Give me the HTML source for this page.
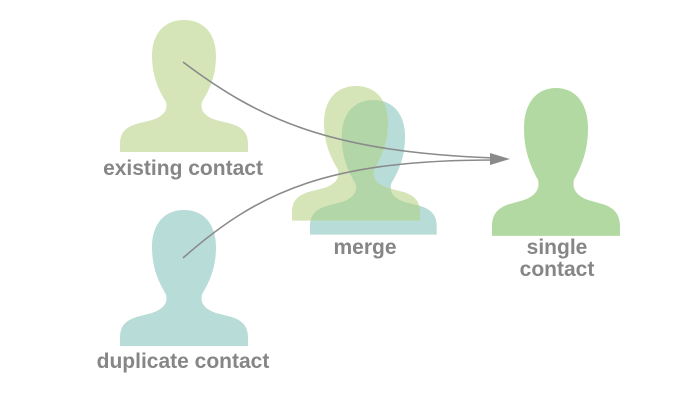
<!DOCTYPE html>
<html><head><style>
html,body{margin:0;padding:0;background:#fff;width:699px;height:419px;overflow:hidden}
</style></head><body>
<svg width="699" height="419" viewBox="0 0 699 419" xmlns="http://www.w3.org/2000/svg">
<defs>
<path id="p" d="M64,0 C84,0 96,14 96,36 C96,58 88,72 82,82 C80,90 84,96 96,100 L112,104 C124,108 128,114 128,124 L128,132 L0,132 L0,124 C0,114 4,108 16,104 L32,100 C44,96 48,90 46,82 C40,72 32,58 32,36 C32,14 44,0 64,0 Z"/>
<clipPath id="tc"><use href="#p" transform="translate(310,100) scale(0.99,1.02)"/></clipPath>
</defs>
<use href="#p" transform="translate(120,20)" fill="#d6e5b8"/>
<use href="#p" transform="translate(120,210) scale(1,1.03)" fill="#b8dcd8"/>
<use href="#p" transform="translate(310,100) scale(0.99,1.02)" fill="#b8dcd8"/>
<use href="#p" transform="translate(292,86) scale(1,1.02)" fill="#d6e5b8"/>
<g clip-path="url(#tc)"><use href="#p" transform="translate(292,86) scale(1,1.02)" fill="#b3d6a8"/></g>
<use href="#p" transform="translate(492,88) scale(1,1.12)" fill="#b3d9a3"/>
<g fill="none" stroke="#8a8a8a" stroke-width="1.6">
<path d="M183,62 C260,120 330,152 495,158"/>
<path d="M183,258 C260,190 330,160 495,160"/>
</g>
<path d="M490,153 L510,159 L490,165 Z" fill="#8a8a8a"/>
<g font-family="Liberation Sans, sans-serif" font-weight="bold" font-size="21" fill="#868686" text-anchor="middle">
<text x="183" y="175">existing contact</text>
<text x="183" y="368">duplicate contact</text>
<text x="365" y="254">merge</text>
<text x="557" y="254">single</text>
<text x="557" y="276">contact</text>
</g>
</svg>
</body></html>
